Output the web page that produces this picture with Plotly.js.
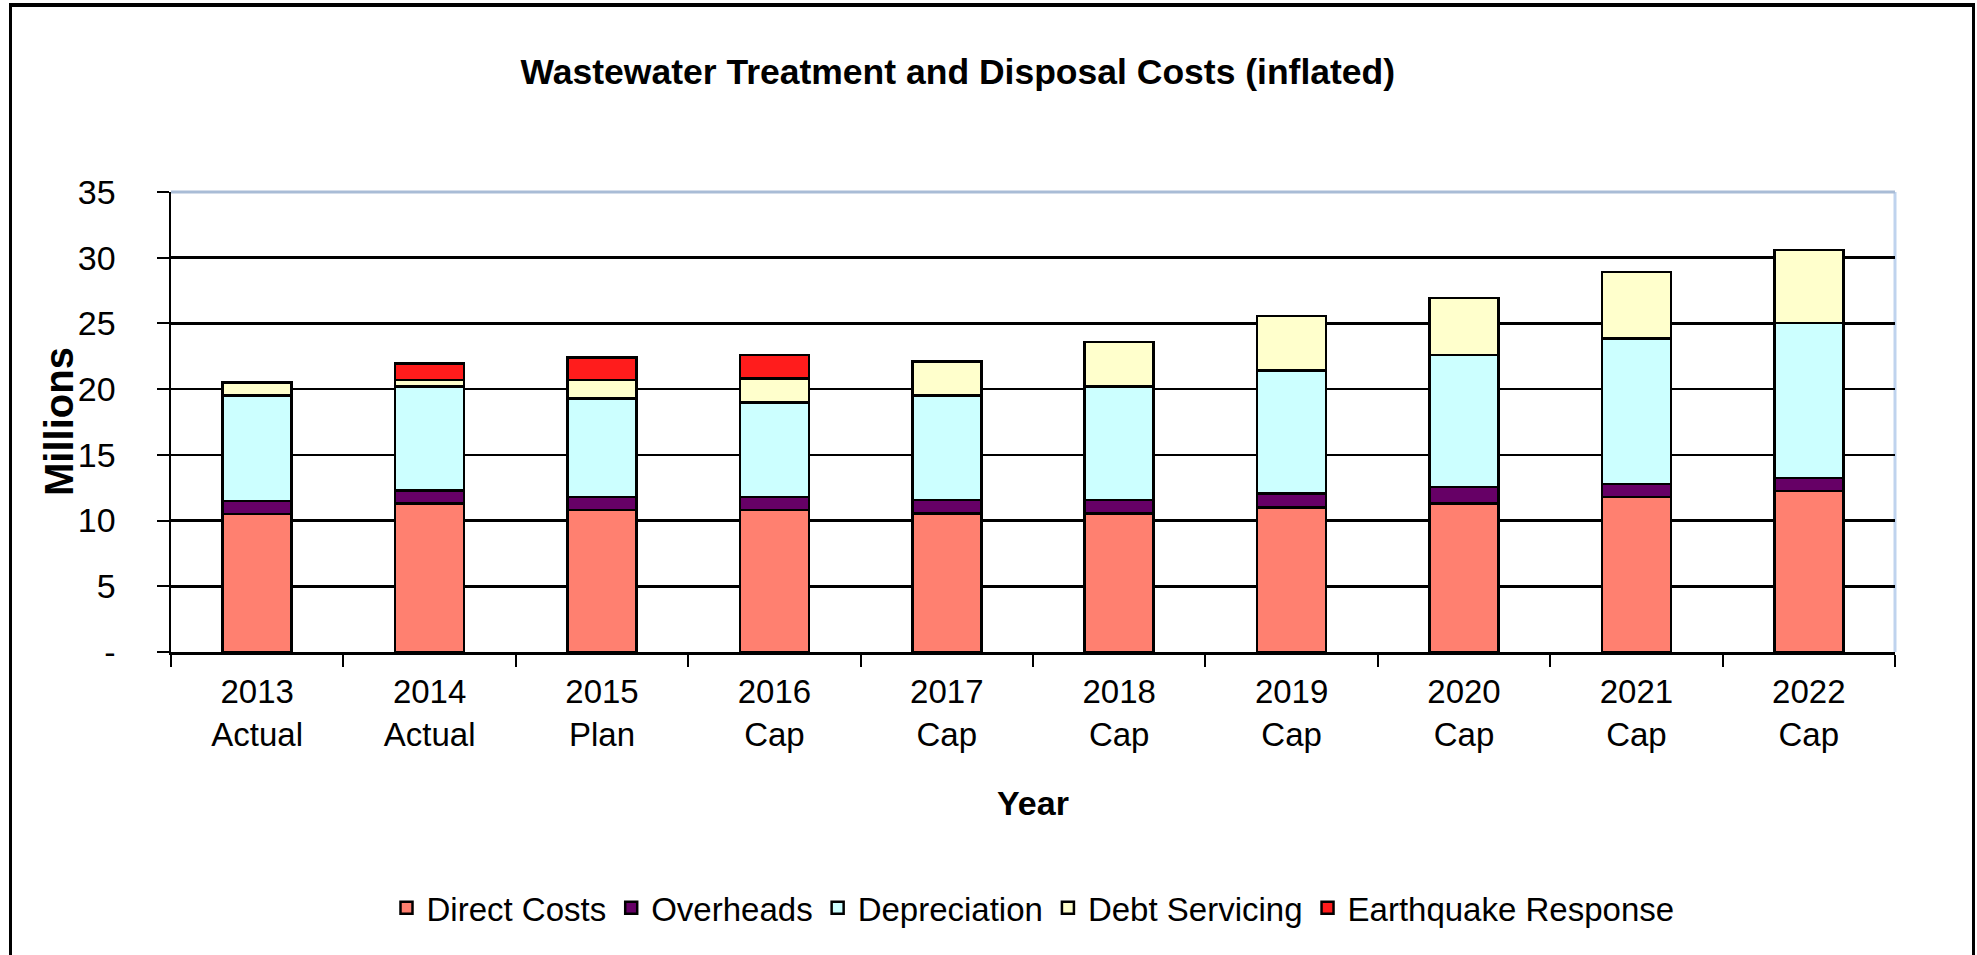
<!DOCTYPE html>
<html>
<head>
<meta charset="utf-8">
<script src="https://cdn.plot.ly/plotly-3.0.1.min.js"></script>
<style>
  html, body { margin: 0; padding: 0; background: #fff; overflow: hidden; }
  #chart { width: 1977px; height: 955px; }
  #frame { position: absolute; left: 9px; top: 3px; width: 1960px; height: 1000px;
           border-top: 4px solid #000; border-left: 3px solid #000; border-right: 3px solid #000;
           pointer-events: none; }
</style>
</head>
<body>
<div id="chart"></div>
<div id="frame"></div>
<script>
const categories = ["2013<br>Actual", "2014<br>Actual", "2015<br>Plan", "2016<br>Cap", "2017<br>Cap",
                    "2018<br>Cap", "2019<br>Cap", "2020<br>Cap", "2021<br>Cap", "2022<br>Cap"];
const directCosts   = [10.5, 11.3, 10.8, 10.8, 10.55, 10.55, 11.0, 11.3, 11.8, 12.25];
const overheads     = [1.0, 1.0, 1.0, 1.0, 1.0, 1.0, 1.05, 1.25, 1.0, 1.0];
const depreciation  = [8.0, 7.9, 7.5, 7.2, 7.95, 8.65, 9.35, 10.05, 11.05, 11.8];
const debtServicing = [1.0, 0.5, 1.4, 1.8, 2.6, 3.4, 4.15, 4.35, 5.05, 5.55];
const earthquake    = [0, 1.27, 1.7, 1.8, 0, 0, 0, 0, 0, 0];
const yTickVals  = [0, 5, 10, 15, 20, 25, 30, 35];
const yTickText  = ["-", "5", "10", "15", "20", "25", "30", "35"];

const FONT = "Liberation Sans, Arial, sans-serif";
const outline = { color: "#000", width: 2.5 };

function series(name, values, color) {
  return { type: "bar", name: name, x: categories, y: values,
           marker: { color: color, line: outline }, hoverinfo: "y+name" };
}

const data = [
  series("Direct Costs", directCosts, "#FF8070"),
  series("Overheads", overheads, "#660066"),
  series("Depreciation", depreciation, "#CCFFFF"),
  series("Debt Servicing", debtServicing, "#FFFFCC"),
  series("Earthquake Response", earthquake, "#FF1C1C")
];

const layout = {
  width: 1977, height: 955,
  paper_bgcolor: "#fff", plot_bgcolor: "#fff",
  barmode: "stack", bargap: 0.6,
  margin: { l: 171, r: 82, t: 192, b: 303 },
  font: { family: FONT, color: "#000", size: 33 },
  title: { text: "<b>Wastewater Treatment and Disposal Costs (inflated)</b>",
           font: { family: FONT, size: 35.5, color: "#000" },
           x: 0.4845, xanchor: "center", yref: "container", y: 1 - 72/955, yanchor: "middle" },
  xaxis: {
    type: "category",
    title: { text: "<b>Year</b>", font: { family: FONT, size: 34 }, standoff: 40 },
    tickfont: { family: FONT, size: 33 },
    ticks: "outside", ticklen: 12, tickwidth: 2, tickcolor: "#000",
    tickson: "boundaries",
    showline: true, linecolor: "#000", linewidth: 3,
    showgrid: false, zeroline: false,
    ticklabelstandoff: 8
  },
  yaxis: {
    range: [0, 35],
    tickvals: yTickVals, ticktext: yTickText,
    tickfont: { family: FONT, size: 34 },
    ticks: "outside", ticklen: 12, tickwidth: 2, tickcolor: "#000",
    showline: true, linecolor: "#000", linewidth: 2.5,
    showgrid: true, gridcolor: "#000", gridwidth: 2.5,
    zeroline: false,
    ticklabelstandoff: 34
  },
  annotations: [
    { text: "<b>Millions</b>", textangle: -90, xref: "paper", yref: "paper",
      x: (59 - 171) / 1724, y: (652 - 422) / 460, xanchor: "center", yanchor: "middle",
      showarrow: false, font: { family: FONT, size: 40, color: "#000" } }
  ],
  shapes: [
    { type: "line", xref: "paper", yref: "paper", x0: 0, x1: 1, y0: 1, y1: 1,
      line: { color: "#A9BCD6", width: 3 }, layer: "above" },
    { type: "line", xref: "paper", yref: "paper", x0: 1, x1: 1, y0: 0, y1: 1,
      line: { color: "#BFD3EE", width: 3 }, layer: "below" }
  ],
  legend: {
    orientation: "h", x: 0.5, xanchor: "center", y: -0.556, yanchor: "middle",
    font: { family: FONT, size: 33 }, traceorder: "normal",
    itemwidth: 30, bgcolor: "rgba(0,0,0,0)"
  },
  showlegend: true
};

Plotly.newPlot("chart", data, layout, { displayModeBar: false, staticPlot: true });
</script>
</body>
</html>
